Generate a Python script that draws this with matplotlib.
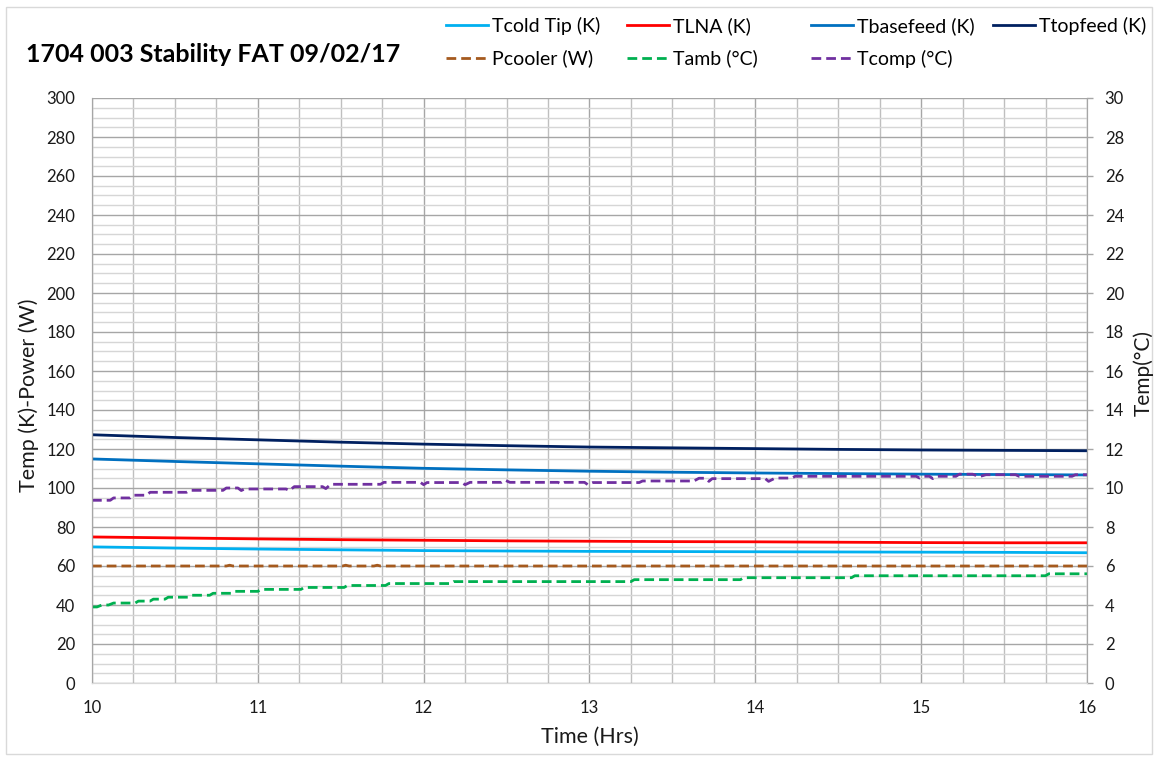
import matplotlib
matplotlib.use('Agg')
import matplotlib.pyplot as plt
from matplotlib.patches import Rectangle
from matplotlib.ticker import MultipleLocator

plt.rcParams['font.family'] = ['Lato', 'DejaVu Sans']

# smooth channels (K / W), time in hours
t_smooth = [10.0, 10.5, 11.0, 11.5, 12.0, 12.5, 13.0, 13.5, 14.0, 14.5, 15.0, 15.5, 16.0]
ttopfeed = [127.3, 125.9, 124.7, 123.5, 122.5, 121.7, 121.0, 120.6, 120.2, 119.8, 119.5, 119.3, 119.1]
tbasefeed = [114.9, 113.6, 112.4, 111.2, 110.1, 109.3, 108.6, 108.1, 107.7, 107.4, 107.1, 106.9, 106.7]
tlna = [74.9, 74.4, 73.9, 73.5, 73.2, 72.9, 72.7, 72.5, 72.4, 72.2, 72.0, 71.9, 71.9]
tcold = [69.8, 69.2, 68.7, 68.3, 67.9, 67.7, 67.5, 67.4, 67.3, 67.2, 67.1, 67.0, 66.8]

t_pcool = [10.0, 10.81, 10.83, 10.85, 11.51, 11.53, 11.55, 11.70, 11.72, 11.74, 16.0]
pcooler = [60.0, 60.0, 60.4, 60.0, 60.0, 60.4, 60.0, 60.0, 60.4, 60.0, 60.0]

# right axis channels (degC)
t_amb = [10.00, 10.03, 10.06, 10.10, 10.13, 10.26, 10.28, 10.35, 10.37, 10.44, 10.46, 10.58,
         10.60, 10.71, 10.73, 10.84, 10.86, 11.00, 11.02, 11.26, 11.28, 11.52, 11.54, 11.77,
         11.79, 12.16, 12.18, 13.25, 13.27, 13.91, 13.93, 14.58, 14.60, 15.75, 15.77, 16.00]
tamb = [3.9, 3.9, 4.0, 4.0, 4.1, 4.1, 4.2, 4.2, 4.3, 4.3, 4.4, 4.4,
        4.5, 4.5, 4.6, 4.6, 4.7, 4.7, 4.8, 4.8, 4.9, 4.9, 5.0, 5.0,
        5.1, 5.1, 5.2, 5.2, 5.3, 5.3, 5.4, 5.4, 5.5, 5.5, 5.6, 5.6]

t_comp = [10.00, 10.11, 10.13, 10.23, 10.25, 10.33, 10.35, 10.57, 10.59, 10.79,
          10.81, 10.88, 10.90, 10.92, 11.17, 11.19, 11.22, 11.39, 11.41, 11.44,
          11.74, 11.76, 11.98, 12.00, 12.02, 12.23, 12.25, 12.28, 12.47, 12.49,
          12.52, 12.81, 12.83, 12.85, 12.97, 12.99, 13.02, 13.30, 13.32, 13.63,
          13.66, 13.70, 13.72, 13.74, 14.06, 14.08, 14.12, 14.22, 14.24, 14.97,
          14.99, 15.01, 15.05, 15.07, 15.10, 15.21, 15.23, 15.31, 15.35, 15.39,
          15.57, 15.59, 15.91, 15.93, 16.00]
tcomp = [9.37, 9.37, 9.49, 9.49, 9.63, 9.63, 9.78, 9.78, 9.88, 9.88,
         10.00, 10.00, 9.87, 9.95, 9.95, 9.87, 10.07, 10.07, 9.97, 10.19,
         10.19, 10.29, 10.29, 10.17, 10.28, 10.28, 10.17, 10.29, 10.29, 10.40,
         10.29, 10.29, 10.21, 10.29, 10.29, 10.17, 10.28, 10.28, 10.36, 10.36,
         10.50, 10.50, 10.34, 10.48, 10.48, 10.34, 10.51, 10.51, 10.60, 10.60,
         10.51, 10.60, 10.60, 10.48, 10.60, 10.60, 10.71, 10.71, 10.58, 10.68,
         10.68, 10.60, 10.60, 10.68, 10.68]

W, H = 1158, 761
fig = plt.figure(figsize=(W / 100, H / 100), dpi=100)
ax = fig.add_axes([92 / W, 1 - 683 / H, 995 / W, 585 / H])
ax2 = ax.twinx()

dash = (3.5, 1.8)
l1, = ax.plot(t_smooth, tcold, color='#00B0F0', lw=2, label='Tcold Tip (K)')
l2, = ax.plot(t_smooth, tlna, color='#FF0000', lw=2, label='TLNA (K)')
l3, = ax.plot(t_smooth, tbasefeed, color='#0070C0', lw=2, label='Tbasefeed (K)')
l4, = ax.plot(t_smooth, ttopfeed, color='#002060', lw=2, label='Ttopfeed (K)')
l5, = ax.plot(t_pcool, pcooler, color='#A55A1E', lw=2, dashes=dash, label='Pcooler (W)')
l6, = ax2.plot(t_amb, tamb, color='#00B050', lw=2, dashes=dash, label='Tamb (°C)')
l7, = ax2.plot(t_comp, tcomp, color='#7030A0', lw=2, dashes=dash, label='Tcomp (°C)')

ax.set_xlim(10, 16)
ax.set_ylim(0, 300)
ax2.set_ylim(0, 30)
ax.xaxis.set_major_locator(MultipleLocator(1))
ax.xaxis.set_minor_locator(MultipleLocator(0.25))
ax.yaxis.set_major_locator(MultipleLocator(20))
ax.yaxis.set_minor_locator(MultipleLocator(5))
ax2.yaxis.set_major_locator(MultipleLocator(2))

ax.set_axisbelow(True)
ax.grid(which='major', axis='both', color='#a6a6a6', lw=1)
ax.grid(which='minor', axis='y', color='#d6d6d6', lw=1)
ax.grid(which='minor', axis='x', color='#bfbfbf', lw=1)

txt = '#1a1a1a'
ax.tick_params(axis='y', which='both', length=0, pad=12, labelsize=12, labelcolor=txt)
ax.tick_params(axis='x', which='both', length=0, pad=12.5, labelsize=12, labelcolor=txt)
ax2.tick_params(axis='y', length=4.3, width=1, color='#a6a6a6', direction='out', pad=8.5,
                labelsize=12, labelcolor=txt)

for a in (ax, ax2):
    a.spines['top'].set_visible(False)
    a.spines['left'].set_color('#a6a6a6')
    a.spines['right'].set_color('#a6a6a6')
    a.spines['bottom'].set_color('#d9d9d9')

fig.text(26 / W, 1 - 54 / H, '1704 003 Stability FAT 09/02/17', fontsize=18,
         fontweight='bold', color='black', ha='left', va='center')
fig.text(29 / W, 1 - 395 / H, 'Temp (K)-Power (W)', rotation=90, fontsize=15.5,
         color=txt, ha='center', va='center')
fig.text(1143 / W, 1 - 373 / H, 'Temp(°C)', rotation=90, fontsize=15,
         color=txt, ha='center', va='center')
fig.text(590 / W, 1 - 737 / H, 'Time (Hrs)', fontsize=15.5, color=txt,
         ha='center', va='center')

# legend: 4 equal-width columns, two rows
cols = [[l1, l5], [l2, l6], [l3, l7], [l4]]
col_x = [446, 627, 811, 993]
for hs, x in zip(cols, col_x):
    fig.legend(handles=hs, loc='upper left', bbox_to_anchor=(x / W, 1 - 17 / H),
               frameon=False, fontsize=14, borderpad=0, borderaxespad=0,
               handlelength=2.15, handletextpad=0.2, labelspacing=0.75)

fig.add_artist(Rectangle((6 / W, 7 / H), 1 - 12 / W, 1 - 14 / H, transform=fig.transFigure,
                         fill=False, edgecolor='#d9d9d9', lw=1))

fig.savefig('out.png', dpi=100)
